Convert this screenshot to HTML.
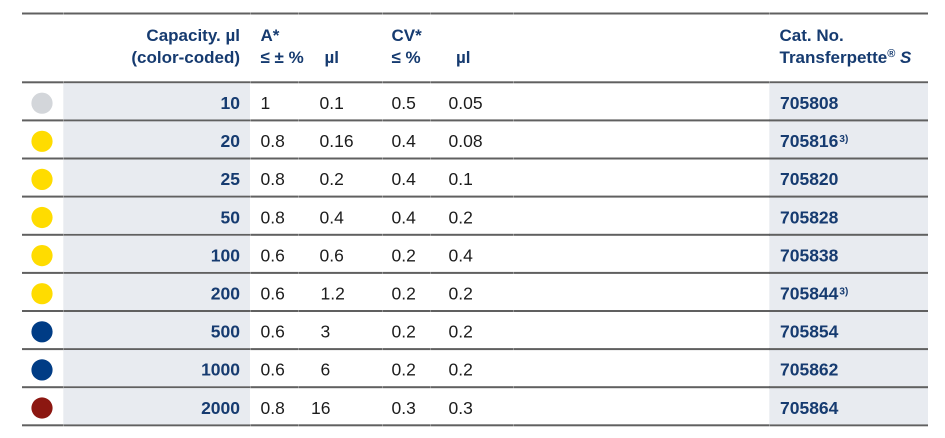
<!DOCTYPE html>
<html>
<head>
<meta charset="utf-8">
<style>
  html,body{margin:0;padding:0;background:#fff;}
  body{width:945px;height:438px;overflow:hidden;}
  svg{display:block;}
  .h{font-family:"Liberation Sans",Arial,sans-serif;font-weight:bold;font-size:17px;fill:#163b70;}
  .c{font-family:"Liberation Sans",Arial,sans-serif;font-weight:bold;font-size:17.5px;fill:#163b70;}
  .d{font-family:"Liberation Sans",Arial,sans-serif;font-size:17.5px;fill:#1c1c1c;}
  .s{font-family:"Liberation Sans",Arial,sans-serif;font-weight:bold;font-size:10px;fill:#163b70;}
</style>
</head>
<body>
<svg width="945" height="438" viewBox="0 0 945 438" xmlns="http://www.w3.org/2000/svg">
  <!-- shaded columns -->
  <rect x="63" y="82" width="187" height="343" fill="#e8ebf0"/>
  <rect x="769" y="82" width="159" height="343" fill="#e8ebf0"/>

  <!-- horizontal lines -->
  <g fill="#606060">
    <rect x="22" y="12.5" width="906" height="2"/>
    <rect x="22" y="81.3" width="906" height="2"/>
    <rect x="22" y="119.4" width="906" height="2"/>
    <rect x="22" y="157.5" width="906" height="2"/>
    <rect x="22" y="195.6" width="906" height="2"/>
    <rect x="22" y="233.8" width="906" height="2"/>
    <rect x="22" y="271.9" width="906" height="2"/>
    <rect x="22" y="310.0" width="906" height="2"/>
    <rect x="22" y="348.1" width="906" height="2"/>
    <rect x="22" y="386.2" width="906" height="2"/>
    <rect x="22" y="424.3" width="906" height="2"/>
  </g>
  <!-- subtle gaps at cell boundaries -->
  <g fill="#ffffff" opacity="0.3">
    <rect x="63" y="12" width="1" height="415"/>
    <rect x="250" y="12" width="1" height="415"/>
    <rect x="298" y="12" width="1" height="415"/>
    <rect x="382" y="12" width="1" height="415"/>
    <rect x="430" y="12" width="1" height="415"/>
    <rect x="513" y="12" width="1" height="415"/>
    <rect x="769" y="12" width="1" height="415"/>
  </g>
  <!-- re-cover shaded areas so gaps only show on lines -->
  <rect x="64" y="83.3" width="186" height="36.1" fill="#e8ebf0"/>
  <rect x="64" y="121.4" width="186" height="36.1" fill="#e8ebf0"/>
  <rect x="64" y="159.5" width="186" height="36.1" fill="#e8ebf0"/>
  <rect x="64" y="197.6" width="186" height="36.2" fill="#e8ebf0"/>
  <rect x="64" y="235.8" width="186" height="36.1" fill="#e8ebf0"/>
  <rect x="64" y="273.9" width="186" height="36.1" fill="#e8ebf0"/>
  <rect x="64" y="312.0" width="186" height="36.1" fill="#e8ebf0"/>
  <rect x="64" y="350.1" width="186" height="36.1" fill="#e8ebf0"/>
  <rect x="64" y="388.2" width="186" height="36.1" fill="#e8ebf0"/>
  <rect x="770" y="83.3" width="158" height="341" fill="#e8ebf0"/>
  <g fill="#606060">
    <rect x="769" y="119.4" width="159" height="2"/>
    <rect x="769" y="157.5" width="159" height="2"/>
    <rect x="769" y="195.6" width="159" height="2"/>
    <rect x="769" y="233.8" width="159" height="2"/>
    <rect x="769" y="271.9" width="159" height="2"/>
    <rect x="769" y="310.0" width="159" height="2"/>
    <rect x="769" y="348.1" width="159" height="2"/>
    <rect x="769" y="386.2" width="159" height="2"/>
  </g>

  <!-- header -->
  <text class="h" x="240" y="41" text-anchor="end">Capacity. µl</text>
  <text class="h" x="240" y="63" text-anchor="end">(color-coded)</text>
  <text class="h" x="260.5" y="41">A*</text>
  <text class="h" x="260.5" y="63">≤ ± %</text>
  <text class="h" x="324.5" y="63">µl</text>
  <text class="h" x="391.5" y="41">CV*</text>
  <text class="h" x="391.5" y="63">≤ %</text>
  <text class="h" x="456" y="63">µl</text>
  <text class="h" x="779.5" y="41">Cat. No.</text>
  <text class="h" x="779.5" y="63">Transferpette<tspan font-size="11" dy="-6">®</tspan><tspan dy="6"> </tspan><tspan font-style="italic">S</tspan></text>

  <!-- circles -->
  <circle cx="42" cy="103.2" r="10.6" fill="#d3d6da"/>
  <circle cx="42" cy="141.3" r="10.6" fill="#ffdc00"/>
  <circle cx="42" cy="179.4" r="10.6" fill="#ffdc00"/>
  <circle cx="42" cy="217.5" r="10.6" fill="#ffdc00"/>
  <circle cx="42" cy="255.6" r="10.6" fill="#ffdc00"/>
  <circle cx="42" cy="293.7" r="10.6" fill="#ffdc00"/>
  <circle cx="42" cy="331.8" r="10.6" fill="#003c85"/>
  <circle cx="42" cy="369.9" r="10.6" fill="#003c85"/>
  <circle cx="42" cy="408.0" r="10.6" fill="#8c1711"/>

  <!-- rows -->
  <g>
    <text class="c" x="240" y="109" text-anchor="end">10</text>
    <text class="d" x="260.5" y="109">1</text>
    <text class="d" x="319.5" y="109">0.1</text>
    <text class="d" x="391.5" y="109">0.5</text>
    <text class="d" x="448.5" y="109">0.05</text>
    <text class="c" x="780" y="109">705808</text>

    <text class="c" x="240" y="147.1" text-anchor="end">20</text>
    <text class="d" x="260.5" y="147.1">0.8</text>
    <text class="d" x="319.5" y="147.1">0.16</text>
    <text class="d" x="391.5" y="147.1">0.4</text>
    <text class="d" x="448.5" y="147.1">0.08</text>
    <text class="c" x="780" y="147.1">705816<tspan class="s" font-size="10" dx="1" dy="-5">3)</tspan></text>

    <text class="c" x="240" y="185.2" text-anchor="end">25</text>
    <text class="d" x="260.5" y="185.2">0.8</text>
    <text class="d" x="319.5" y="185.2">0.2</text>
    <text class="d" x="391.5" y="185.2">0.4</text>
    <text class="d" x="448.5" y="185.2">0.1</text>
    <text class="c" x="780" y="185.2">705820</text>

    <text class="c" x="240" y="223.3" text-anchor="end">50</text>
    <text class="d" x="260.5" y="223.3">0.8</text>
    <text class="d" x="319.5" y="223.3">0.4</text>
    <text class="d" x="391.5" y="223.3">0.4</text>
    <text class="d" x="448.5" y="223.3">0.2</text>
    <text class="c" x="780" y="223.3">705828</text>

    <text class="c" x="240" y="261.4" text-anchor="end">100</text>
    <text class="d" x="260.5" y="261.4">0.6</text>
    <text class="d" x="319.5" y="261.4">0.6</text>
    <text class="d" x="391.5" y="261.4">0.2</text>
    <text class="d" x="448.5" y="261.4">0.4</text>
    <text class="c" x="780" y="261.4">705838</text>

    <text class="c" x="240" y="299.5" text-anchor="end">200</text>
    <text class="d" x="260.5" y="299.5">0.6</text>
    <text class="d" x="320.5" y="299.5">1.2</text>
    <text class="d" x="391.5" y="299.5">0.2</text>
    <text class="d" x="448.5" y="299.5">0.2</text>
    <text class="c" x="780" y="299.5">705844<tspan class="s" font-size="10" dx="1" dy="-5">3)</tspan></text>

    <text class="c" x="240" y="337.6" text-anchor="end">500</text>
    <text class="d" x="260.5" y="337.6">0.6</text>
    <text class="d" x="320.5" y="337.6">3</text>
    <text class="d" x="391.5" y="337.6">0.2</text>
    <text class="d" x="448.5" y="337.6">0.2</text>
    <text class="c" x="780" y="337.6">705854</text>

    <text class="c" x="240" y="375.7" text-anchor="end">1000</text>
    <text class="d" x="260.5" y="375.7">0.6</text>
    <text class="d" x="320.5" y="375.7">6</text>
    <text class="d" x="391.5" y="375.7">0.2</text>
    <text class="d" x="448.5" y="375.7">0.2</text>
    <text class="c" x="780" y="375.7">705862</text>

    <text class="c" x="240" y="413.8" text-anchor="end">2000</text>
    <text class="d" x="260.5" y="413.8">0.8</text>
    <text class="d" x="311" y="413.8">16</text>
    <text class="d" x="391.5" y="413.8">0.3</text>
    <text class="d" x="448.5" y="413.8">0.3</text>
    <text class="c" x="780" y="413.8">705864</text>
  </g>
</svg>
</body>
</html>
